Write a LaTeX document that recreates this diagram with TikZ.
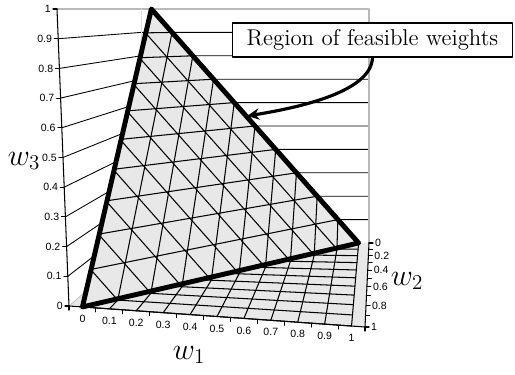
\documentclass[tikz,border=0pt]{standalone}
\usepackage{fontspec}
\newfontfamily\axisfont{Liberation Sans}
\usetikzlibrary{arrows.meta}
\tikzset{declare function={
  ff(\y)=\y/(\y+1.385*(1-\y));
  sw(\x)=(10*\x+0.5)/11;
  px(\x,\y,\z)=(141+228*\x)+ff(\y)*(69+296*\x+\z*(12*\x-12)-141-228*\x);
  py(\x,\y,\z)=(9+234*(1-\z))+ff(\y)*((306+21*\x)*(1-\z)+9*\z-9-234*(1-\z));
  qx(\x,\y,\z)=px(sw(\x),\y,\z);
  qy(\x,\y,\z)=py(sw(\x),\y,\z);
}}
\begin{document}
\begin{tikzpicture}[x=0.02cm, y=-0.02cm, line join=round, line cap=round, >=Stealth,
  wallline/.style={black, line width=0.5pt},
  rimgray/.style={gray!55, line width=0.7pt},
  meshline/.style={black, line width=0.6pt},
  rim/.style={black, line width=2.8pt},
  axisline/.style={black, line width=0.6pt},
  ticklab/.style={font=\axisfont\fontsize{6}{7}\selectfont, inner sep=1pt},
  axtitle/.style={font=\fontsize{18}{20}\selectfont, inner sep=0pt}]
\useasboundingbox (0,0) rectangle (515,375);

\foreach \k in {1,...,9}
  \draw[wallline] ({px(0,1,\k/10)},{py(0,1,\k/10)}) -- ({px(0,0,\k/10)},{py(0,0,\k/10)})
    -- ({px(1,0,\k/10)},{py(1,0,\k/10)});
\draw[rimgray] ({px(0,1,1)},{py(0,1,1)}) -- ({px(0,0,1)},{py(0,0,1)}) -- ({px(1,0,1)},{py(1,0,1)})
  -- ({px(1,0,0)},{py(1,0,0)});
\draw[gray!25, line width=0.5pt] ({px(0,0,1)},{py(0,0,1)}) -- ({px(0,0,0)},{py(0,0,0)});

\fill[black!9] ({px(0,0,0)},{py(0,0,0)}) -- ({px(1,0,0)},{py(1,0,0)}) -- ({px(1,1,0)},{py(1,1,0)})
  -- ({px(0,1,0)},{py(0,1,0)}) -- cycle;
\draw[gray!45, line width=0.5pt] ({px(0,1,0)},{py(0,1,0)}) -- ({px(0,0,0)},{py(0,0,0)});
\foreach \k in {0,...,10} {
  \draw[meshline] ({qx(\k/10,0,0)},{qy(\k/10,0,0)}) -- ({qx(\k/10,1,0)},{qy(\k/10,1,0)});
  \draw[meshline] ({qx(0,\k/10,0)},{qy(0,\k/10,0)}) -- ({qx(1,\k/10,0)},{qy(1,\k/10,0)});
}

\coordinate (A) at ({qx(0,1,0)},{qy(0,1,0)});
\coordinate (B) at ({qx(1,0,0)},{qy(1,0,0)});
\coordinate (C) at ({qx(0,0,1)},{qy(0,0,1)});
\fill[black!9] (A) -- (B) -- (C) -- cycle;
\foreach \k in {1,...,9} {
  \draw[meshline] ({qx(\k/10,1-\k/10,0)},{qy(\k/10,1-\k/10,0)}) -- ({qx(\k/10,0,1-\k/10)},{qy(\k/10,0,1-\k/10)});
  \draw[meshline] ({qx(0,\k/10,1-\k/10)},{qy(0,\k/10,1-\k/10)}) -- ({qx(1-\k/10,\k/10,0)},{qy(1-\k/10,\k/10,0)});
  \draw[meshline] ({qx(0,1-\k/10,\k/10)},{qy(0,1-\k/10,\k/10)}) -- ({qx(1-\k/10,0,\k/10)},{qy(1-\k/10,0,\k/10)});
}
\draw[rim] (A) -- (B) -- (C) -- cycle;

\draw[axisline] ({px(0,1,0)},{py(0,1,0)}) -- ({px(0,1,1)},{py(0,1,1)});
\foreach \k/\lab in {0/0,1/0.1,2/0.2,3/0.3,4/0.4,5/0.5,6/0.6,7/0.7,8/0.8,9/0.9,10/1}
  \draw[axisline] ({px(0,1,\k/10)},{py(0,1,\k/10)}) -- ++(-4,0) node[ticklab, left] (z\k) {\lab};

\draw[axisline] ({px(0,1,0)},{py(0,1,0)}) -- ({px(1,1,0)},{py(1,1,0)});
\foreach \k in {0,...,11}
  \draw[axisline] ({px(\k/11,1,0)},{py(\k/11,1,0)}) -- ++(0,4);
\foreach \k/\lab in {0/0,1/0.1,2/0.2,3/0.3,4/0.4,5/0.5,6/0.6,7/0.7,8/0.8,9/0.9,10/1}
  \node[ticklab] (x\k) at ({qx(\k/10,1,0)},{qy(\k/10,1,0)+12}) {\lab};

\draw[axisline] ({px(1,0,0)},{py(1,0,0)}) -- ({px(1,1,0)},{py(1,1,0)});
\foreach \k in {0,...,10}
  \draw[axisline] ({px(1,\k/10,0)},{py(1,\k/10,0)}) -- ++(4,0);
\foreach \k/\lab in {0/0,2/0.2,4/0.4,6/0.6,8/0.8,10/1}
  \node[ticklab, right] (y\k) at ({px(1,\k/10,0)+4},{py(1,\k/10,0)}) {\lab};

\node[axtitle] (t3) at (24,161) {$w_3$};
\node[axtitle] (t1) at (189,355) {$w_1$};
\node[axtitle] (t2) at (407,281) {$w_2$};

\node[draw, fill=white, line width=0.6pt, minimum width=5.62cm, minimum height=0.68cm,
  font=\fontsize{13}{15}\selectfont] (lbl) at (372.5,40) {Region of feasible weights};
\coordinate (tip) at (247,116);
\draw[line width=1.8pt, -{Stealth[length=7pt,width=6.5pt]}] (lbl.south) .. controls +(-1,32) and +(62,-10) .. (tip);
\end{tikzpicture}
\end{document}
